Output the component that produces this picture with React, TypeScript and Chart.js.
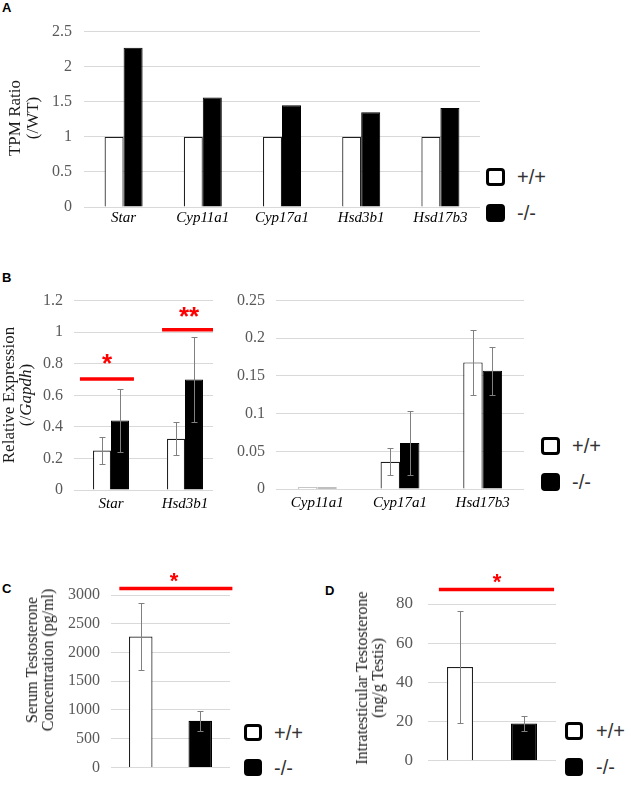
import React, { useEffect, useRef } from 'react';
import { Chart, registerables } from 'chart.js';

Chart.register(...registerables);

const SERIF = '"Liberation Serif", "Times New Roman", serif';
const SANS = '"Liberation Sans", Arial, sans-serif';

// ---------- Panel A ----------
const A_GENES = ['Star', 'Cyp11a1', 'Cyp17a1', 'Hsd3b1', 'Hsd17b3'];
const A_WT = [1, 1, 1, 1, 1];
const A_KO = [2.27, 1.56, 1.45, 1.35, 1.41];
const A_TICKS = [0, 0.5, 1, 1.5, 2, 2.5];

// ---------- Panel B (left) ----------
const BL_GENES = ['Star', 'Hsd3b1'];
const BL_WT = [0.25, 0.325];
const BL_WT_ERR = [0.083, 0.105];
const BL_KO = [0.44, 0.70];
const BL_KO_ERR = [0.2, 0.27];
const BL_TICKS = [0, 0.2, 0.4, 0.6, 0.8, 1, 1.2];

// ---------- Panel B (right) ----------
const BR_GENES = ['Cyp11a1', 'Cyp17a1', 'Hsd17b3'];
const BR_WT = [0.002, 0.036, 0.168];
const BR_WT_ERR = [0, 0.0178, 0.0435];
const BR_KO = [0.002, 0.061, 0.157];
const BR_KO_ERR = [0, 0.042, 0.032];
const BR_TICKS = [0, 0.05, 0.1, 0.15, 0.2, 0.25];

// ---------- Panel C ----------
const GROUPS = ['+/+', '-/-'];
const C_VALUES = [2277, 810];
const C_ERR = [578, 170];
const C_TICKS = [0, 500, 1000, 1500, 2000, 2500, 3000];

// ---------- Panel D ----------
const D_VALUES = [47.8, 19];
const D_ERR = [28.5, 3.8];
const D_TICKS = [0, 20, 40, 60, 80];

// significance markers (value level, category span, label)
const BL_SIG = [
  { v: 0.703, x0: -0.42, x1: 0.31, tx: -0.054, text: '*', size: 26, dy: 20 },
  { v: 1.015, x0: 0.69, x1: 1.42, tx: 1.054, text: '**', size: 26, dy: 18 },
];
const C_SIG = [{ v: 3115, x0: -0.36, x1: 1.54, tx: 0.56, text: '*', size: 22, dy: 11 }];
const D_SIG = [{ v: 87.4, x0: -0.33, x1: 1.47, tx: 0.58, text: '*', size: 22, dy: 11 }];

const WHITE_BAR = '#ffffff';
const WHITE_EDGE = '#1f1f1f';
const BLACK_BAR = '#000000';

const errorBarPlugin = {
  id: 'errbars',
  afterDatasetsDraw(chart: any) {
    const ctx = chart.ctx;
    const ys = chart.scales.y;
    chart.data.datasets.forEach((ds: any, di: number) => {
      const errs = ds.errors;
      if (!errs) return;
      const meta = chart.getDatasetMeta(di);
      meta.data.forEach((bar: any, i: number) => {
        const e = errs[i];
        const v = ds.data[i];
        if (!e || v == null) return;
        const x = Math.round(bar.x) + 0.5;
        const yt = Math.round(ys.getPixelForValue(v + e)) + 0.5;
        const yb = Math.round(ys.getPixelForValue(v - e)) + 0.5;
        ctx.save();
        ctx.strokeStyle = '#808080';
        ctx.lineWidth = 1;
        ctx.beginPath();
        ctx.moveTo(x, yt);
        ctx.lineTo(x, yb);
        ctx.moveTo(x - 3, yt);
        ctx.lineTo(x + 3, yt);
        ctx.moveTo(x - 3, yb);
        ctx.lineTo(x + 3, yb);
        ctx.stroke();
        ctx.restore();
      });
    });
  },
};

function sigPlugin(items: any[]) {
  return {
    id: 'sig',
    afterDraw(chart: any) {
      const ctx = chart.ctx;
      const xs = chart.scales.x;
      const ys = chart.scales.y;
      items.forEach((s) => {
        const y = ys.getPixelForValue(s.v);
        const x0 = xs.getPixelForValue(s.x0);
        const x1 = xs.getPixelForValue(s.x1);
        ctx.save();
        ctx.strokeStyle = '#ff0000';
        ctx.lineWidth = 3.5;
        ctx.beginPath();
        ctx.moveTo(x0, y);
        ctx.lineTo(x1, y);
        ctx.stroke();
        ctx.fillStyle = '#ff0000';
        ctx.font = `bold ${s.size}px ${SANS}`;
        ctx.textAlign = 'center';
        ctx.textBaseline = 'alphabetic';
        const m = ctx.measureText(s.text);
        const cy = y - s.dy;
        const base = cy + (m.actualBoundingBoxAscent - m.actualBoundingBoxDescent) / 2;
        ctx.fillText(s.text, xs.getPixelForValue(s.tx), base);
        ctx.restore();
      });
    },
  };
}

interface Cfg {
  labels: string[];
  datasets: any[];
  ticks: number[];
  yWidth: number;
  yPad: number;
  xHeight: number;
  xPad: number;
  showX: boolean;
  pad: { top: number; right: number; bottom: number; left: number };
  sigs: any[];
  tickSize: number;
}

function makeConfig(p: Cfg): any {
  return {
    type: 'bar',
    data: { labels: p.labels, datasets: p.datasets },
    options: {
      animation: false,
      responsive: false,
      devicePixelRatio: 1,
      layout: { padding: p.pad },
      plugins: { legend: { display: false }, tooltip: { enabled: false } },
      scales: {
        x: {
          type: 'category',
          offset: true,
          grid: { display: false, drawTicks: false },
          border: { display: false },
          ticks: {
            display: p.showX,
            color: '#000000',
            font: { family: SERIF, style: 'italic', size: 15 },
            padding: p.xPad,
            maxRotation: 0,
            autoSkip: false,
          },
          afterFit: (s: any) => {
            s.height = p.xHeight;
          },
        },
        y: {
          min: 0,
          max: p.ticks[p.ticks.length - 1],
          grid: { color: '#d9d9d9', drawTicks: false, lineWidth: 1 },
          border: { display: false },
          afterBuildTicks: (s: any) => {
            s.ticks = p.ticks.map((v) => ({ value: v }));
          },
          ticks: {
            color: '#595959',
            font: { family: SERIF, size: p.tickSize },
            padding: p.yPad,
            callback: (v: any) => String(v),
          },
          afterFit: (s: any) => {
            s.width = p.yWidth;
          },
        },
      },
    },
    plugins: [errorBarPlugin, sigPlugin(p.sigs)],
  };
}

function ChartCanvas(props: { left: number; top: number; width: number; height: number; cfg: () => any; z?: number; bg?: string }) {
  const ref = useRef<HTMLCanvasElement>(null);
  useEffect(() => {
    const chart = new Chart(ref.current as HTMLCanvasElement, props.cfg());
    return () => chart.destroy();
  }, []);
  return (
    <canvas
      ref={ref}
      width={props.width}
      height={props.height}
      style={{
        position: 'absolute',
        left: props.left,
        top: props.top,
        width: props.width,
        height: props.height,
        zIndex: props.z ?? 0,
        background: props.bg ?? 'transparent',
      }}
    />
  );
}

function VTitle(props: { cx: number; cy: number; size: number; lh: number; children: React.ReactNode }) {
  return (
    <div
      style={{
        position: 'absolute',
        left: props.cx,
        top: props.cy,
        transform: 'translate(-50%, -50%) rotate(-90deg)',
        whiteSpace: 'nowrap',
        textAlign: 'center',
        fontFamily: SERIF,
        fontSize: props.size,
        lineHeight: `${props.lh}px`,
        color: '#1a1a1a',
        zIndex: 3,
      }}
    >
      {props.children}
    </div>
  );
}

function Legend(props: { x: number; y1: number; y2: number; tx: number; w: number; h: number }) {
  const sq = (y: number, fill: string) => (
    <div
      style={{
        position: 'absolute',
        left: props.x,
        top: y,
        width: props.w - 6,
        height: props.h - 6,
        border: '3px solid #000',
        borderRadius: 4,
        background: fill,
      }}
    />
  );
  const txt = (y: number, t: string) => (
    <div
      style={{
        position: 'absolute',
        left: props.tx,
        top: y + props.h / 2 - 12,
        height: 24,
        lineHeight: '24px',
        fontFamily: SANS,
        fontSize: 20,
        color: '#333',
        whiteSpace: 'nowrap',
      }}
    >
      {t}
    </div>
  );
  return (
    <>
      {sq(props.y1, WHITE_BAR)}
      {txt(props.y1, GROUPS[0])}
      {sq(props.y2, BLACK_BAR)}
      {txt(props.y2, GROUPS[1])}
    </>
  );
}

function Letter(props: { x: number; y: number; t: string }) {
  return (
    <div
      style={{
        position: 'absolute',
        left: props.x,
        top: props.y,
        fontFamily: SANS,
        fontWeight: 'bold',
        fontSize: 13,
        lineHeight: '15px',
        color: '#000',
      }}
    >
      {props.t}
    </div>
  );
}

const pairDatasets = (wt: number[], ko: number[], wtErr: number[] | null, koErr: number[] | null, cp: number) => [
  {
    label: GROUPS[0],
    data: wt,
    errors: wtErr,
    backgroundColor: WHITE_BAR,
    borderColor: WHITE_EDGE,
    borderWidth: 1.2,
    categoryPercentage: cp,
    barPercentage: 1,
  },
  {
    label: GROUPS[1],
    data: ko,
    errors: koErr,
    backgroundColor: BLACK_BAR,
    borderColor: BLACK_BAR,
    borderWidth: 1,
    categoryPercentage: cp,
    barPercentage: 1,
  },
];

const singleDataset = (vals: number[], errs: number[], cp: number) => [
  {
    label: 'value',
    data: vals,
    errors: errs,
    backgroundColor: [WHITE_BAR, BLACK_BAR],
    borderColor: [WHITE_EDGE, BLACK_BAR],
    borderWidth: 1.2,
    categoryPercentage: cp,
    barPercentage: 1,
  },
];

export default function App() {
  return (
    <div
      style={{
        position: 'absolute',
        left: 0,
        top: 0,
        width: 631,
        height: 785,
        overflow: 'hidden',
        background: '#fff',
      }}
    >
      {/* Panel A */}
      <Letter x={2} y={0} t="A" />
      <ChartCanvas
        left={40}
        top={10}
        width={445}
        height={219}
        cfg={() =>
          makeConfig({
            labels: A_GENES,
            datasets: pairDatasets(A_WT, A_KO, null, null, 0.48),
            ticks: A_TICKS,
            yWidth: 44,
            yPad: 12,
            xHeight: 22,
            xPad: 2,
            showX: true,
            pad: { top: 18, right: 5, bottom: 0, left: 0 },
            sigs: [],
            tickSize: 16,
          })
        }
      />
      <VTitle cx={24} cy={118} size={17} lh={18}>
        <div>TPM Ratio</div>
        <div>(/WT)</div>
      </VTitle>
      <Legend x={486} y1={168} y2={204} tx={517} w={19} h={18} />

      {/* Panel B */}
      <Letter x={2} y={270} t="B" />
      <ChartCanvas
        left={34}
        top={280}
        width={190}
        height={232}
        cfg={() =>
          makeConfig({
            labels: BL_GENES,
            datasets: pairDatasets(BL_WT, BL_KO, BL_WT_ERR, BL_KO_ERR, 0.486),
            ticks: BL_TICKS,
            yWidth: 40,
            yPad: 11,
            xHeight: 22,
            xPad: 5,
            showX: true,
            pad: { top: 15, right: 2, bottom: 0, left: 0 },
            sigs: BL_SIG,
            tickSize: 16,
          })
        }
      />
      <ChartCanvas
        left={213}
        top={280}
        width={320}
        height={231}
        z={1}
        bg="#ffffff"
        cfg={() =>
          makeConfig({
            labels: BR_GENES,
            datasets: pairDatasets(BR_WT, BR_KO, BR_WT_ERR, BR_KO_ERR, 0.47),
            ticks: BR_TICKS,
            yWidth: 63,
            yPad: 11,
            xHeight: 22,
            xPad: 5,
            showX: true,
            pad: { top: 14, right: 9, bottom: 0, left: 0 },
            sigs: [],
            tickSize: 16,
          })
        }
      />
      <VTitle cx={17} cy={395} size={17} lh={17}>
        <div>Relative Expression</div>
        <div>
          (/<i>Gapdh</i>)
        </div>
      </VTitle>
      <Legend x={541} y1={437} y2={473} tx={572} w={19} h={18} />

      {/* Panel C */}
      <Letter x={2} y={581} t="C" />
      <ChartCanvas
        left={51}
        top={565}
        width={185}
        height={223}
        cfg={() =>
          makeConfig({
            labels: GROUPS,
            datasets: singleDataset(C_VALUES, C_ERR, 0.395),
            ticks: C_TICKS,
            yWidth: 60,
            yPad: 11,
            xHeight: 10,
            xPad: 0,
            showX: false,
            pad: { top: 30, right: 6, bottom: 0, left: 0 },
            sigs: C_SIG,
            tickSize: 16,
          })
        }
      />
      <VTitle cx={40} cy={660} size={16} lh={16}>
        <div>Serum Testosterone</div>
        <div>Concentration (pg/ml)</div>
      </VTitle>
      <Legend x={244} y1={724} y2={759} tx={274} w={18} h={17} />

      {/* Panel D */}
      <Letter x={325} y={583} t="D" />
      <ChartCanvas
        left={370}
        top={565}
        width={190}
        height={221}
        cfg={() =>
          makeConfig({
            labels: GROUPS,
            datasets: singleDataset(D_VALUES, D_ERR, 0.406),
            ticks: D_TICKS,
            yWidth: 58,
            yPad: 15,
            xHeight: 10,
            xPad: 0,
            showX: false,
            pad: { top: 39, right: 4, bottom: 0, left: 0 },
            sigs: D_SIG,
            tickSize: 17,
          })
        }
      />
      <VTitle cx={370} cy={678} size={16} lh={16}>
        <div>Intratesticular Testosterone</div>
        <div>(ng/g Testis)</div>
      </VTitle>
      <Legend x={565} y1={722} y2={758} tx={596} w={18} h={18} />
    </div>
  );
}
